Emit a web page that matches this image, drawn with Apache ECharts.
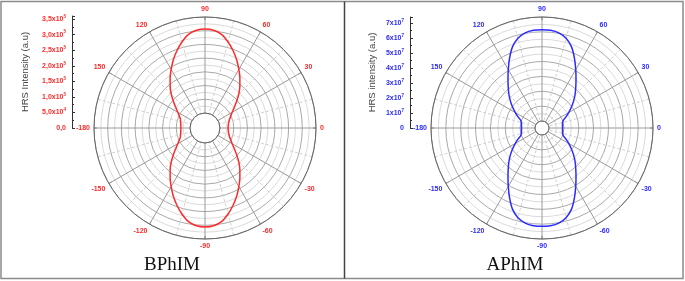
<!DOCTYPE html>
<html>
  <head>
    <meta charset="utf-8" />
    <title>HRS polar plots</title>
    <script src="https://cdn.jsdelivr.net/npm/echarts@6/dist/echarts.min.js"></script>
  </head>
  <body style="margin:0;background:#fff;">
    <div id="container" style="width:685px;height:281px;"></div>
    <script type="text/javascript">
    // polarisation angle (deg), -180 .. 180 every 5 deg
    var angles = [-180, -175, -170, -165, -160, -155, -150, -145, -140, -135, -130, -125,
                  -120, -115, -110, -105, -100, -95, -90, -85, -80, -75, -70, -65,
                  -60, -55, -50, -45, -40, -35, -30, -25, -20, -15, -10, -5, 0,
                  5, 10, 15, 20, 25, 30, 35, 40, 45, 50, 55, 60, 65, 70, 75, 80, 85, 90,
                  95, 100, 105, 110, 115, 120, 125, 130, 135, 140, 145, 150, 155, 160, 165, 170, 175, 180];
    var bphim = [3.28e4, 3.4e4, 3.5e4, 3.8e4, 4.08e4, 4.89e4, 5.98e4, 7.51e4, 9.55e4, 1.19e5, 1.43e5, 1.67e5,
                 1.92e5, 2.19e5, 2.45e5, 2.70e5, 2.92e5, 3.03e5, 3.06e5,
                 3.03e5, 2.92e5, 2.70e5, 2.45e5, 2.19e5, 1.92e5, 1.67e5, 1.43e5, 1.19e5, 9.55e4, 7.51e4, 5.98e4,
                 4.89e4, 4.08e4, 3.57e4, 3.21e4, 3.06e4, 2.92e4,
                 3.06e4, 3.21e4, 3.57e4, 4.08e4, 4.89e4, 5.98e4, 7.51e4, 9.55e4, 1.19e5, 1.43e5, 1.67e5, 1.92e5,
                 2.19e5, 2.45e5, 2.70e5, 2.92e5, 3.03e5, 3.06e5,
                 3.03e5, 2.92e5, 2.70e5, 2.45e5, 2.19e5, 1.92e5, 1.67e5, 1.43e5, 1.19e5, 9.55e4, 7.51e4, 5.98e4,
                 4.89e4, 4.08e4, 3.8e4, 3.5e4, 3.4e4, 3.28e4];
    var aphim = [9.09e6, 9.15e6, 9.29e6, 9.69e6, 1.06e7, 1.31e7, 1.60e7, 1.93e7, 2.29e7, 2.67e7, 3.06e7, 3.52e7,
                 4.07e7, 4.70e7, 5.34e7, 5.78e7, 6.03e7, 6.13e7, 6.15e7,
                 6.13e7, 6.03e7, 5.78e7, 5.34e7, 4.70e7, 4.07e7, 3.52e7, 3.06e7, 2.67e7, 2.29e7, 1.93e7, 1.60e7,
                 1.31e7, 1.06e7, 9.69e6, 9.29e6, 9.15e6, 9.09e6,
                 9.15e6, 9.29e6, 9.69e6, 1.06e7, 1.31e7, 1.60e7, 1.93e7, 2.29e7, 2.67e7, 3.06e7, 3.52e7, 4.07e7,
                 4.70e7, 5.34e7, 5.78e7, 6.03e7, 6.13e7, 6.15e7,
                 6.13e7, 6.03e7, 5.78e7, 5.34e7, 4.70e7, 4.07e7, 3.52e7, 3.06e7, 2.67e7, 2.29e7, 1.93e7, 1.60e7,
                 1.31e7, 1.06e7, 9.69e6, 9.29e6, 9.15e6, 9.09e6];
    var names = ['BPhIM', 'APhIM'];
    var axisTitles = ['HRS Intensity (a.u)', 'HRS intensity (a.u)'];

    var red = '#ff2a2a';
    var blue = '#2b2bff';

    function pairs(vals) {
        var out = [];
        for (var i = 0; i < angles.length; i++) out.push([vals[i], angles[i]]);
        return out;
    }

    // tick labels of the side scales, Origin style "3,5x10^5"
    function leftLabel(v) {
        if (v % 5e4 !== 0) return '';
        if (v === 0) return '{a|0,0}';
        if (v < 1e5) return '{a|' + (v / 1e4).toFixed(1).replace('.', ',') + 'x10}{s|4}';
        return '{a|' + (v / 1e5).toFixed(1).replace('.', ',') + 'x10}{s|5}';
    }
    function rightLabel(v) {
        if (v % 1e7 !== 0) return '';
        if (v === 0) return '{a|0}';
        return '{a|' + (v / 1e7) + 'x10}{s|7}';
    }

    function polarAxes(idx, color, max) {
        var angle = {
            polarIndex: idx,
            type: 'value',
            min: -180, max: 180, interval: 30,
            startAngle: 180,
            clockwise: false,
            axisLine: { lineStyle: { color: '#666', width: 1 } },
            axisTick: { show: true, inside: true, length: 3, lineStyle: { color: '#666' } },
            minorTick: { show: false, splitNumber: 2 },
            axisLabel: { color: color, fontSize: 7, fontWeight: 'bold', fontFamily: 'Liberation Sans', margin: 4 },
            splitLine: { show: true, lineStyle: { color: '#9a9a9a', width: 1 } },
            minorSplitLine: { show: true, lineStyle: { color: '#d0d0d0', type: [3, 2], width: 1 } }
        };
        var radius = {
            polarIndex: idx,
            type: 'value',
            min: 0, max: max, splitNumber: 7, interval: max / 7,
            axisLine: { show: false },
            axisTick: { show: false },
            axisLabel: { show: false },
            minorTick: { show: false, splitNumber: 2 },
            splitLine: { show: true, lineStyle: { color: '#a8a8a8', width: 1 } },
            minorSplitLine: { show: true, lineStyle: { color: '#dadada', width: 1 } }
        };
        return [angle, radius];
    }

    function sideAxis(idx, color, max, interval, fmt, gap) {
        return {
            gridIndex: idx,
            type: 'value',
            min: 0, max: max, interval: interval,
            axisLine: { show: true, lineStyle: { color: '#333', width: 1 } },
            axisTick: { show: true, inside: true, length: 3, lineStyle: { color: '#333' } },
            minorTick: { show: true, splitNumber: 2, length: 2, lineStyle: { color: '#333' } },
            splitLine: { show: false },
            axisLabel: {
                margin: 6,
                formatter: fmt,
                rich: {
                    a: { color: color, fontSize: 7, fontWeight: 'bold', fontFamily: 'Liberation Sans' },
                    s: { color: color, fontSize: 4.5, fontWeight: 'bold', fontFamily: 'Liberation Sans', padding: [0, 0, 5, 0] }
                }
            },
            name: axisTitles[idx],
            nameLocation: 'middle',
            nameRotate: 90,
            nameGap: gap,
            nameTextStyle: { color: '#444', fontSize: 9.5, fontFamily: 'Liberation Sans' }
        };
    }

    var left = polarAxes(0, red, 3.5e5);
    var right = polarAxes(1, blue, 7e7);

    var myChart = echarts.init(document.getElementById('container'));
    var option = {
        animation: false,
        polar: [
            { center: [205, 128], radius: [15, 111] },
            { center: [542, 128], radius: [7, 111] }
        ],
        angleAxis: [left[0], right[0]],
        radiusAxis: [left[1], right[1]],
        grid: [
            { left: 72, top: 16, width: 1, height: 112 },
            { left: 410, top: 17, width: 1, height: 111 }
        ],
        xAxis: [
            { gridIndex: 0, type: 'value', show: false },
            { gridIndex: 1, type: 'value', show: false }
        ],
        yAxis: [
            sideAxis(0, red, 3.6e5, 5e4, leftLabel, 42),
            sideAxis(1, blue, 7.4e7, 1e7, rightLabel, 33)
        ],
        series: [
            {
                name: names[0], type: 'line', coordinateSystem: 'polar', polarIndex: 0,
                data: pairs(bphim), smooth: 0.3, symbol: 'none',
                lineStyle: { color: red, width: 1.5 }
            },
            {
                name: names[1], type: 'line', coordinateSystem: 'polar', polarIndex: 1,
                data: pairs(aphim), smooth: 0.3, symbol: 'none',
                lineStyle: { color: blue, width: 1.5 }
            }
        ],
        graphic: [
            { type: 'rect', shape: { x: 1, y: 1.5, width: 682, height: 277 },
              style: { fill: null, stroke: '#8a8a8a', lineWidth: 1.5 }, silent: true },
            { type: 'line', shape: { x1: 344.5, y1: 1.5, x2: 344.5, y2: 278.5 },
              style: { stroke: '#444', lineWidth: 1.5 }, silent: true },
            { type: 'text', x: 172, y: 265,
              style: { text: names[0], fill: '#111', font: '19px "Liberation Serif"', textAlign: 'center', textVerticalAlign: 'middle' } },
            { type: 'text', x: 515, y: 265,
              style: { text: names[1], fill: '#111', font: '19px "Liberation Serif"', textAlign: 'center', textVerticalAlign: 'middle' } }
        ]
    };
    myChart.setOption(option);

    window.addEventListener('resize', myChart.resize);
    </script>
  </body>
</html>
